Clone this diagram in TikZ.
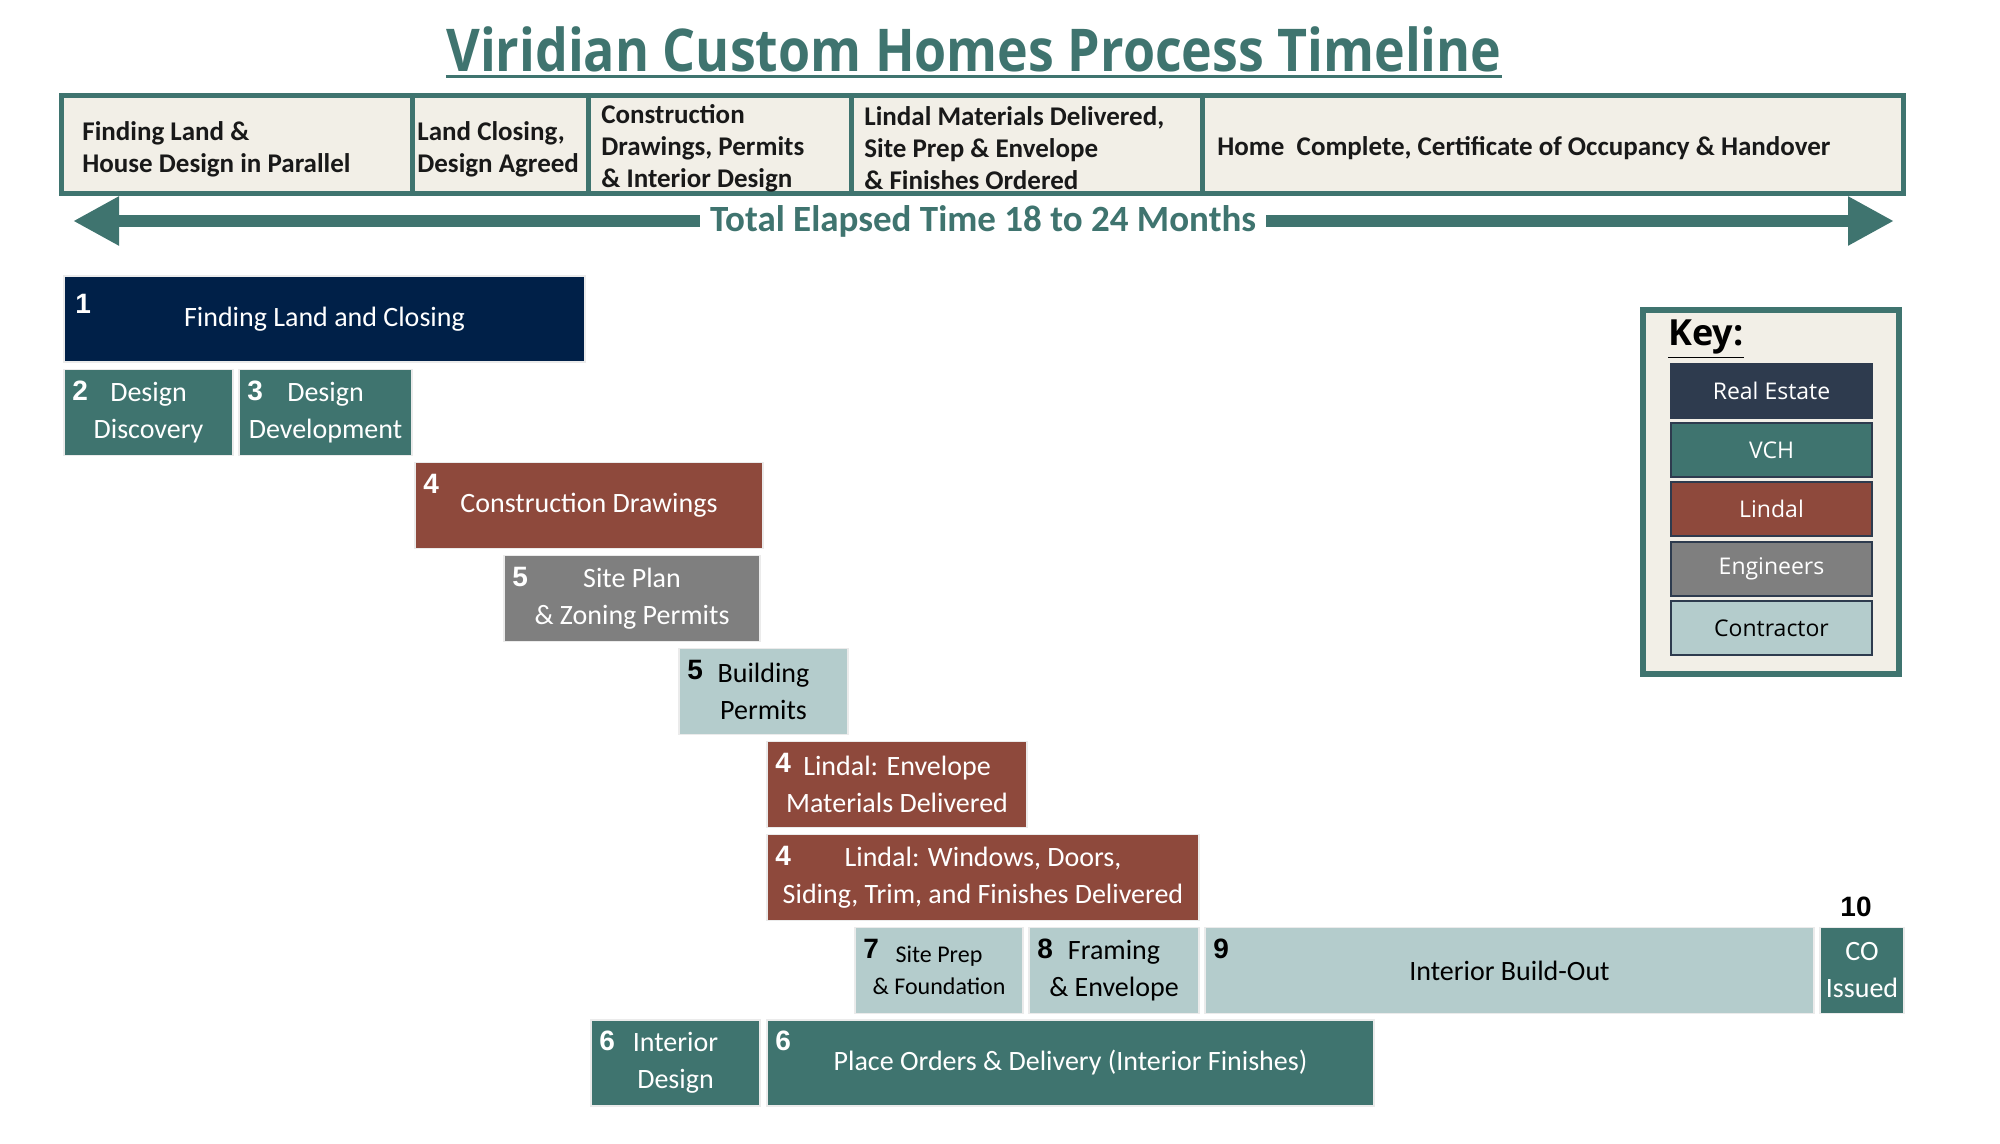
\documentclass[tikz,border=0pt]{standalone}
\usepackage{fontspec}
\setmainfont{Carlito}
\newfontfamily\opensans{Open Sans}
\newfontfamily\titlefont{Open Sans}[FakeStretch=0.88]
\newfontfamily\numfont{Liberation Sans}
\usetikzlibrary{arrows.meta}
\definecolor{vteal}{RGB}{63,116,111}
\definecolor{vnavy}{RGB}{0,32,72}
\definecolor{vslate}{RGB}{46,59,78}
\definecolor{vlindal}{RGB}{142,73,60}
\definecolor{vgray}{RGB}{127,127,127}
\definecolor{vlight}{RGB}{180,204,204}
\definecolor{vbeige}{RGB}{242,239,231}

\begin{document}
\begin{tikzpicture}[x=0.5pt, y=-0.5pt,
  bar/.style={draw=black!8, line width=0.8pt, inner sep=0pt, minimum height=43pt,
    align=center, text=white, font=\fontsize{14}{18.5}\selectfont},
  lightbar/.style={bar, fill=vlight, text=black},
  num/.style={inner sep=0pt, text=white, font=\numfont\bfseries\fontsize{14}{14}\selectfont},
  hcell/.style={draw=vteal, line width=2.5pt, fill=vbeige, minimum height=49pt, inner sep=0pt},
  htext/.style={anchor=west, inner sep=0pt, align=left, text=black!90,
    font=\bfseries\fontsize{13.5}{16}\selectfont},
  keyitem/.style={draw=vslate, line width=1pt, minimum width=100.5pt, minimum height=27pt,
    inner sep=0pt, text=white, font=\opensans\fontsize{11.5}{11.5}\selectfont}]
  \useasboundingbox (0,0) rectangle (2000,1144);
  % Title
  \node[text=vteal, inner sep=0pt, font=\titlefont\bfseries\fontsize{29.5}{30}\selectfont]
    (title) at (974,49) {Viridian Custom Homes Process Timeline};
  \draw[vteal, line width=1.5pt] ([yshift=-2.5pt]title.base west) -- ([yshift=-2.5pt]title.base east);
  % Phase header
  \node[hcell, minimum width=175.25pt] (h1) at (236.75,144.5) {};
  \node[hcell, minimum width=88pt]     (h2) at (500,144.5) {};
  \node[hcell, minimum width=131.5pt]  (h3) at (719.5,144.5) {};
  \node[hcell, minimum width=175.5pt]  (h4) at (1026.5,144.5) {};
  \node[hcell, minimum width=350.75pt] (h5) at (1552.75,144.5) {};
  \node[htext] (h1-t) at (82,149) {Finding Land \&\\House Design in Parallel};
  \node[htext] (h2-t) at (417,149) {Land Closing,\\Design Agreed};
  \node[htext] (h3-t) at (601,148) {Construction\\Drawings, Permits\\\& Interior Design};
  \node[htext] (h4-t) at (864,148) {Lindal Materials Delivered,\\Site Prep \& Envelope\\\& Finishes Ordered};
  \node[htext] (h5-t) at (1217,148) {Home\ \ Complete, Certificate of Occupancy \& Handover};
  % Elapsed time arrow
  \coordinate (tl) at (73,221);
  \coordinate (tr) at (1894,221);
  \draw[vteal, line width=6pt, {Triangle[length=23pt, width=23pt]}-{Triangle[length=23pt, width=23pt]}] (tl) -- (tr);
  \node[fill=white, text=vteal, inner xsep=5pt, inner ysep=1pt, font=\bfseries\fontsize{18.5}{18.5}\selectfont]
    (elapsed) at (983,221) {Total Elapsed Time 18 to 24 Months};
  % Stages
  \node[bar, fill=vnavy, minimum width=260.5pt] (land) at (324.5,319) {Finding Land and Closing};
  \node[bar, fill=vteal, minimum width=84.5pt] (disc) at (148.5,412.5) {Design\\Discovery};
  \node[bar, fill=vteal, minimum width=86.5pt] (dev) at (325.5,412.5) {Design\\Development};
  \node[bar, fill=vlindal, minimum width=174pt] (cd) at (589,505.5) {Construction Drawings};
  \node[bar, fill=vgray, minimum width=128pt] (site) at (632,598.5) {Site Plan\\\& Zoning Permits};
  \node[lightbar, minimum width=84.5pt] (bp) at (763.5,691.5) {Building\\Permits};
  \node[bar, fill=vlindal, minimum width=130pt] (env) at (897,784.5) {Lindal: Envelope\\Materials Delivered};
  \node[bar, fill=vlindal, minimum width=216pt] (win) at (983,877.5) {Lindal: Windows, Doors,\\Siding, Trim, and Finishes Delivered};
  \node[lightbar, minimum width=84pt, font=\fontsize{12}{16}\selectfont] (prep) at (939,970.5) {Site Prep\\\& Foundation};
  \node[lightbar, minimum width=85pt] (frame) at (1114,970.5) {Framing\\\& Envelope};
  \node[lightbar, minimum width=304.5pt] (build) at (1509.5,970.5) {Interior Build-Out};
  \node[bar, fill=vteal, minimum width=42pt] (co) at (1862,970.5) {CO\\Issued};
  \node[bar, fill=vteal, minimum width=84.5pt] (idesign) at (675.5,1063) {Interior\\Design};
  \node[bar, fill=vteal, minimum width=303.5pt] (orders) at (1070.5,1063) {Place Orders \& Delivery (Interior Finishes)};
  % Stage numbers
  \node[num] (land-num) at ([shift={(10pt,-14.5pt)}]land.north west) {1};
  \foreach \b/\n in {disc/2, dev/3, cd/4, site/5, env/4, win/4, idesign/6, orders/6}
    \node[num] (\b-num) at ([shift={(8.5pt,-11pt)}]\b.north west) {\n};
  \foreach \b/\n in {bp/5, prep/7, frame/8, build/9}
    \node[num, text=black] (\b-num) at ([shift={(8.5pt,-11pt)}]\b.north west) {\n};
  \node[num, text=black] (co-num) at ([shift={(-3pt,10pt)}]co.north) {10};
  % Key
  \node[draw=vteal, line width=3pt, fill=vbeige, minimum width=128pt, minimum height=182pt] (keybox) at (1771,492) {};
  \node[anchor=west, inner sep=0pt, font=\opensans\bfseries\fontsize{18}{18}\selectfont] (keytitle) at (1668,339) {\underline{Key:}};
  \foreach \k/\y/\c/\t/\tc in {re/391/vslate/Real Estate/white, vch/450/vteal/VCH/white,
      lin/509/vlindal/Lindal/white, eng/569/vgray/Engineers/white, con/628/vlight/Contractor/black}
    \node[keyitem, fill=\c, text=\tc] (key-\k) at (1771.5,\y) {\t};
\end{tikzpicture}
\end{document}
